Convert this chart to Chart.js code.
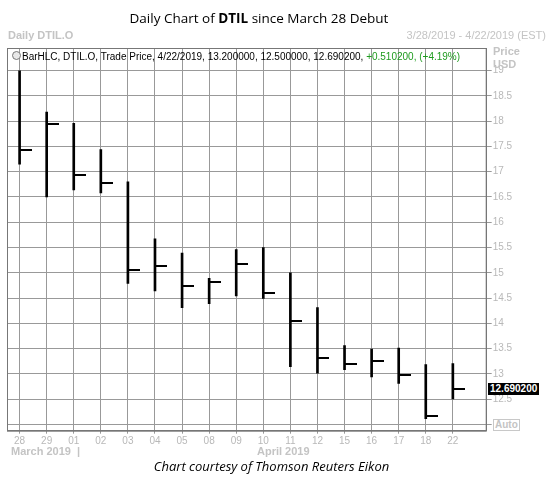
<!DOCTYPE html>
<html>
<head>
<meta charset="utf-8">
<script src="https://cdn.jsdelivr.net/npm/chart.js@4.4.1/dist/chart.umd.min.js"></script>
<style>
  body { margin: 0; background: #fff; }
  #wrap { position: relative; width: 549px; height: 479px; overflow: hidden; font-family: 'Liberation Sans', Arial, sans-serif; }
  #myChart { position: absolute; left: 0; top: 0; }
  .t { position: absolute; white-space: nowrap; line-height: 1; }
  #title { left: 0; width: 518px; top: 12px; text-align: center; font-family: 'Open Sans', sans-serif; font-size: 13.5px; color: #000; }
  #hdrLeft { left: 8px; top: 30px; font-size: 11px; font-weight: bold; color: #c4c4c4; }
  #hdrRight { right: 3px; top: 30px; font-size: 11px; color: #c4c4c4; }
  #legend { left: 22px; top: 52px; font-size: 10px; color: #000; }
  #legend .up { color: #1e9a1e; }
  #clock { position: absolute; left: 12px; top: 51px; width: 7px; height: 7px; border: 1px solid #777; border-radius: 50%; background: #e8e8e8; }
  #priceLbl { left: 493px; top: 45px; font-size: 11px; font-weight: bold; color: #c4c4c4; line-height: 13px; }
  #lastBox { left: 488px; background: #000; color: #fff; font-size: 10px; font-weight: bold; padding: 1px 2px; }
  #autoBox { left: 493px; top: 419px; background: #fff; border: 1px solid #c8c8c8; color: #c4c4c4; font-size: 10px; font-weight: bold; padding: 0 1px; }
  #march { left: 11px; top: 446px; font-size: 11px; font-weight: bold; color: #c4c4c4; }
  #april { left: 257px; top: 446px; font-size: 11px; font-weight: bold; color: #c4c4c4; }
  #footer { left: 0; width: 543px; top: 460px; text-align: center; font-family: 'Open Sans', sans-serif; font-style: italic; font-size: 13px; color: #000; }
</style>
</head>
<body>
<div id="wrap">
  <canvas id="myChart" width="549" height="479"></canvas>
  <div class="t" id="title">Daily Chart of <b>DTIL</b> since March 28 Debut</div>
  <div class="t" id="hdrLeft">Daily DTIL.O</div>
  <div class="t" id="hdrRight">3/28/2019 - 4/22/2019 (EST)</div>
  <div id="clock"></div>
  <div class="t" id="legend">BarHLC, DTIL.O, Trade Price, 4/22/2019, 13.200000, 12.500000, 12.690200, <span class="up">+0.510200, (+4.19%)</span></div>
  <div class="t" id="priceLbl">Price<br>USD</div>
  <div class="t" id="lastBox">12.690200</div>
  <div class="t" id="autoBox">Auto</div>
  <div class="t" id="march">March 2019 &nbsp;|</div>
  <div class="t" id="april">April 2019</div>
  <div class="t" id="footer">Chart courtesy of Thomson Reuters Eikon</div>
</div>
<script>
const dateLabels = ['28', '29', '01', '02', '03', '04', '05', '08', '09', '10', '11', '12', '15', '16', '17', '18', '22']
const highs  = [19.00, 18.18, 17.96, 17.44, 16.80, 15.67, 15.39, 14.89, 15.46, 15.50, 15.00, 14.31, 13.56, 13.49, 13.51, 13.18, 13.20]
const lows   = [17.15, 16.50, 16.64, 16.58, 14.79, 14.64, 14.31, 14.39, 14.54, 14.49, 13.14, 13.01, 13.08, 12.94, 12.81, 12.11, 12.50]
const closes = [17.44, 17.95, 16.94, 16.77, 15.05, 15.14, 14.74, 14.82, 15.18, 14.59, 14.04, 13.32, 13.19, 13.25, 12.98, 12.17, 12.69]
const priceTicks = [12, 12.5, 13, 13.5, 14, 14.5, 15, 15.5, 16, 16.5, 17, 17.5, 18, 18.5, 19]

// close tick: short line to the right of the bar
const closeTick = document.createElement('canvas')
closeTick.width = 24
closeTick.height = 2
const tctx = closeTick.getContext('2d')
tctx.fillStyle = '#000'
tctx.fillRect(12, 0, 12, 2)

const gridColor = '#999999'
const tickFont = { family: "'Liberation Sans', Arial, sans-serif", size: 10 }

const framePlugin = {
  id: 'frame',
  beforeDatasetsDraw(chart) {
    const a = chart.chartArea
    const c = chart.ctx
    c.save()
    c.strokeStyle = '#777777'
    c.lineWidth = 1
    c.strokeRect(a.left + 0.5, a.top + 0.5, a.right - a.left - 1, a.bottom - a.top)
    c.restore()
  },
  afterDraw(chart) {
    const y = chart.scales.y.getPixelForValue(closes[closes.length - 1])
    document.getElementById('lastBox').style.top = (y - 6) + 'px'
  }
}

const ctx = document.getElementById('myChart').getContext('2d')
const chart = new Chart(ctx, {
  type: 'bar',
  data: {
    datasets: [{
      type: 'bar',
      label: 'high-low',
      data: dateLabels.map((d, i) => ({ x: i, y: [lows[i], highs[i]] })),
      backgroundColor: '#000',
      barThickness: 2,
      grouped: false,
      order: 2
    }, {
      type: 'scatter',
      label: 'close',
      data: dateLabels.map((d, i) => ({ x: i, y: closes[i] })),
      pointStyle: closeTick,
      radius: 6,
      order: 1
    }]
  },
  options: {
    responsive: false,
    animation: false,
    layout: { padding: { left: 5.7, top: 48, right: 0, bottom: 0 } },
    plugins: { legend: { display: false }, tooltip: { enabled: false }, title: { display: false } },
    scales: {
      x: {
        type: 'linear',
        position: 'bottom',
        offset: false,
        min: -0.465,
        max: 17.25,
        afterBuildTicks: scale => { scale.ticks = dateLabels.map((d, i) => ({ value: i })) },
        afterFit: scale => { scale.height = 48.3 },
        grid: { color: gridColor, tickLength: 3, offset: false },
        border: { color: '#777777' },
        ticks: {
          callback: v => dateLabels[v],
          color: '#b8b8b8',
          font: tickFont,
          padding: 2,
          maxRotation: 0,
          autoSkip: false
        }
      },
      y: {
        type: 'linear',
        position: 'right',
        min: 11.873,
        max: 19.45,
        afterBuildTicks: scale => { scale.ticks = priceTicks.map(v => ({ value: v })) },
        afterFit: scale => { scale.width = 62.3 },
        grid: { color: gridColor, tickLength: 5 },
        border: { color: '#777777' },
        ticks: {
          callback: v => v,
          color: '#b8b8b8',
          font: tickFont,
          padding: 1
        }
      }
    }
  },
  plugins: [framePlugin]
})
</script>
</body>
</html>
